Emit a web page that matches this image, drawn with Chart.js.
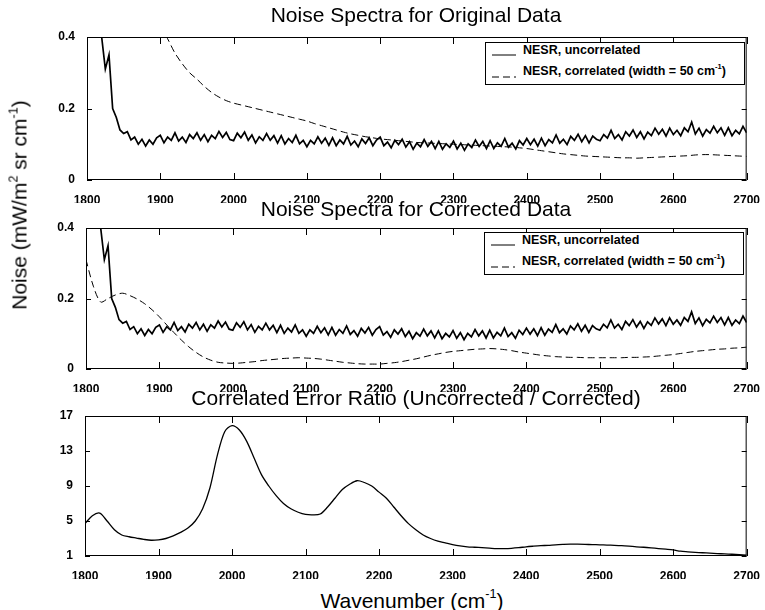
<!DOCTYPE html>
<html>
<head>
<meta charset="utf-8">
<title>Noise Spectra</title>
<script src="https://cdn.jsdelivr.net/npm/chart.js@4.4.1/dist/chart.umd.min.js"></script>
<style>
    body { margin: 0; background: #fff; }
    #page {
        position: relative; width: 765px; height: 610px; overflow: hidden;
        font-family: "Liberation Sans", Arial, sans-serif; color: #000;
    }
    #page canvas { position: absolute; left: 0; }
    .title {
        position: absolute; font-size: 21px; line-height: 1; white-space: nowrap;
        transform: translate(-50%, -50%);
    }
    .title sup, .legend sup { font-size: 0.6em; vertical-align: 0.75em; line-height: 0; }
    #y-title { transform: translate(-50%, -50%) rotate(-90deg); }
    .legend {
        position: absolute; border: 1px solid #000; background: #fff;
        font-weight: bold; font-size: 12.5px; line-height: 1;
    }
    .legend span { position: absolute; left: 37px; white-space: nowrap; }
    .legend svg { position: absolute; left: 6px; }
</style>
</head>
<body>
<div id="page">
    <canvas id="panel-1" width="765" height="178" style="top:25px"></canvas>
    <canvas id="panel-2" width="765" height="176" style="top:216px"></canvas>
    <canvas id="panel-3" width="765" height="175" style="top:404px"></canvas>

    <div class="title" style="left:416px; top:14px">Noise Spectra for Original Data</div>
    <div class="title" style="left:416px; top:208px">Noise Spectra for Corrected Data</div>
    <div class="title" style="left:416px; top:397px">Correlated Error Ratio (Uncorrected / Corrected)</div>
    <div class="title" style="left:412px; top:600px">Wavenumber (cm<sup>-1</sup>)</div>
    <div class="title" id="y-title" style="left:19px; top:205px">Noise (mW/m<sup>2</sup> sr cm<sup>-1</sup>)</div>

    <div class="legend" style="left:485px; top:42px; width:258px; height:41px">
        <svg width="24" height="4" style="top:10px"><line x1="0" y1="2" x2="24" y2="2" stroke="#000" stroke-width="1"/></svg>
        <span style="top:1px">NESR, uncorrelated</span>
        <svg width="24" height="4" style="top:32px"><line x1="0" y1="2" x2="24" y2="2" stroke="#000" stroke-width="1" stroke-dasharray="7 4"/></svg>
        <span style="top:22px">NESR, correlated (width = 50 cm<sup>-1</sup>)</span>
    </div>
    <div class="legend" style="left:484px; top:232px; width:258px; height:41px">
        <svg width="24" height="4" style="top:10px"><line x1="0" y1="2" x2="24" y2="2" stroke="#000" stroke-width="1"/></svg>
        <span style="top:1px">NESR, uncorrelated</span>
        <svg width="24" height="4" style="top:32px"><line x1="0" y1="2" x2="24" y2="2" stroke="#000" stroke-width="1" stroke-dasharray="7 4"/></svg>
        <span style="top:22px">NESR, correlated (width = 50 cm<sup>-1</sup>)</span>
    </div>
</div>

<script>
// Wavenumber axis (cm-1)
const wnMin = 1800;
const wnMax = 2700;
const wnTicks = [1800, 1900, 2000, 2100, 2200, 2300, 2400, 2500, 2600, 2700];

// Uncorrelated NESR, sampled every 5 cm-1 from 1800 (same in both noise panels)
const nesrStep = 5;
const nesrUncorrelated = [
    null, null, null, null,
    0.40, 0.31, 0.35, 0.20, 0.175, 0.14, 0.13, 0.135, 0.112, 0.12, 0.10, 0.114, 0.095, 0.112, 0.10, 0.118,
    0.125, 0.104, 0.12, 0.111, 0.132, 0.109, 0.12, 0.105, 0.127, 0.116, 0.132, 0.111, 0.127, 0.107, 0.125, 0.116, 0.136, 0.119, 0.133, 0.113,
    0.11, 0.131, 0.118, 0.134, 0.111, 0.126, 0.104, 0.121, 0.111, 0.13, 0.111, 0.124, 0.103, 0.124, 0.101, 0.116, 0.105, 0.125, 0.101, 0.111,
    0.093, 0.111, 0.101, 0.121, 0.103, 0.117, 0.097, 0.118, 0.096, 0.112, 0.101, 0.122, 0.098, 0.109, 0.093, 0.115, 0.102, 0.118, 0.096, 0.112,
    0.12, 0.096, 0.106, 0.09, 0.111, 0.099, 0.114, 0.092, 0.107, 0.086, 0.103, 0.093, 0.113, 0.094, 0.108, 0.088, 0.108, 0.086, 0.101, 0.091,
    0.109, 0.087, 0.103, 0.083, 0.101, 0.091, 0.112, 0.094, 0.108, 0.088, 0.11, 0.088, 0.104, 0.094, 0.116, 0.092, 0.103, 0.087, 0.11, 0.098,
    0.116, 0.099, 0.114, 0.095, 0.117, 0.096, 0.113, 0.104, 0.126, 0.103, 0.114, 0.099, 0.122, 0.111, 0.128, 0.107, 0.124, 0.104, 0.123, 0.114,
    0.11, 0.127, 0.117, 0.139, 0.116, 0.127, 0.112, 0.135, 0.123, 0.14, 0.119, 0.135, 0.115, 0.134, 0.124, 0.145, 0.128, 0.142, 0.123, 0.145,
    0.127, 0.139, 0.124, 0.146, 0.135, 0.162, 0.129, 0.145, 0.123, 0.141, 0.131, 0.15, 0.132, 0.146, 0.125, 0.146, 0.124, 0.139, 0.129, 0.15,
    0.132
];

// Smooth curves, sampled every 10 cm-1 from 1800
const smoothStep = 10;
const nesrCorrelatedOriginal = [
    null, null, null, null, null, null, null, null, null, null,
    0.43, 0.395, 0.355, 0.325, 0.30, 0.282, 0.262, 0.245, 0.232, 0.222,
    0.215, 0.21, 0.205, 0.20, 0.195, 0.19, 0.185, 0.18, 0.175, 0.17,
    0.165, 0.158, 0.152, 0.146, 0.14, 0.134, 0.129, 0.125, 0.121, 0.118,
    0.115, 0.113, 0.111, 0.109, 0.107, 0.105, 0.104, 0.103, 0.102, 0.101,
    0.10, 0.099, 0.098, 0.097, 0.096, 0.095, 0.094, 0.093, 0.092, 0.09,
    0.088, 0.085, 0.082, 0.079, 0.076, 0.073, 0.071, 0.069, 0.067, 0.066,
    0.065, 0.064, 0.063, 0.062, 0.062, 0.061, 0.062, 0.063, 0.064, 0.065,
    0.066, 0.067, 0.068, 0.07, 0.071, 0.071, 0.07, 0.069, 0.068, 0.067,
    0.066
];

const nesrCorrelatedCorrected = [
    0.31, 0.235, 0.19, 0.20, 0.21, 0.215, 0.208, 0.198, 0.185, 0.168,
    0.148, 0.125, 0.103, 0.082, 0.063, 0.047, 0.034, 0.025, 0.019, 0.017,
    0.016, 0.017, 0.019, 0.021, 0.024, 0.026, 0.028, 0.03, 0.031, 0.032,
    0.031, 0.03, 0.028, 0.025, 0.022, 0.019, 0.017, 0.015, 0.014, 0.014,
    0.014, 0.016, 0.018, 0.021, 0.025, 0.029, 0.034, 0.039, 0.043, 0.047,
    0.05, 0.052, 0.054, 0.056, 0.057, 0.058, 0.057, 0.055, 0.052, 0.048,
    0.045, 0.042, 0.039, 0.037, 0.035, 0.034, 0.033, 0.033, 0.032, 0.032,
    0.032, 0.032, 0.032, 0.032, 0.033, 0.033, 0.034, 0.035, 0.037, 0.039,
    0.041, 0.044, 0.047, 0.05, 0.052, 0.054, 0.056, 0.057, 0.059, 0.06,
    0.062
];

const errorRatio = [
    4.7, 5.6, 5.9, 5.0, 4.0, 3.4, 3.2, 3.05, 2.9, 2.8,
    2.85, 3.0, 3.3, 3.7, 4.2, 5.0, 6.4, 8.8, 12.5, 15.2,
    15.9, 15.4, 14.1, 12.2, 10.3, 9.0, 7.9, 7.0, 6.4, 6.0,
    5.75, 5.7, 5.8, 6.6, 7.6, 8.6, 9.2, 9.6, 9.4, 9.0,
    8.3, 7.6, 6.6, 5.6, 4.7, 4.0, 3.4, 3.0, 2.7, 2.5,
    2.3, 2.15, 2.05, 2.0, 1.95, 1.9, 1.85, 1.85, 1.88, 1.95,
    2.05, 2.12, 2.18, 2.22, 2.28, 2.32, 2.35, 2.35, 2.33, 2.3,
    2.28, 2.25, 2.22, 2.18, 2.12, 2.05, 2.0, 1.93, 1.85, 1.78,
    1.7, 1.55, 1.48, 1.42, 1.37, 1.33, 1.28, 1.24, 1.2, 1.15,
    1.1
];

// Y axis ticks for each panel
const noiseTicks = [0, 0.2, 0.4];
const ratioTicks = [1, 5, 9, 13, 17];

// Turn a sampled array into {x, y} points on the wavenumber axis
function toPoints(values, step) {
    return values.map((v, i) => ({ x: wnMin + i * step, y: v }));
}

// Draws the box around the plot with inward ticks on all four sides
const frameTicks = {
    id: 'frameTicks',
    afterDraw(chart) {
        const { ctx, chartArea: a, scales: { x, y } } = chart;
        ctx.save();
        ctx.strokeStyle = '#000';
        ctx.lineWidth = 1;
        ctx.strokeRect(a.left + 0.5, a.top + 0.5, a.right - a.left - 1, a.bottom - a.top - 1);
        ctx.beginPath();
        x.ticks.forEach(t => {
            const px = Math.round(x.getPixelForValue(t.value)) + 0.5;
            ctx.moveTo(px, a.top); ctx.lineTo(px, a.top + 7);
            ctx.moveTo(px, a.bottom); ctx.lineTo(px, a.bottom - 7);
        });
        y.ticks.forEach(t => {
            const py = Math.round(y.getPixelForValue(t.value)) + 0.5;
            ctx.moveTo(a.left, py); ctx.lineTo(a.left + 5, py);
            ctx.moveTo(a.right, py); ctx.lineTo(a.right - 5, py);
        });
        ctx.stroke();
        ctx.restore();
    }
};

const tickFont = { family: '"Liberation Sans", Arial, sans-serif', size: 12, weight: 'bold' };

// Shared options for one panel; left/right are the plot edges in page pixels
function panelOptions(yMin, yMax, yTicks, left, right) {
    return {
        responsive: false,
        animation: false,
        layout: { padding: { top: 12, right: 765 - right, bottom: 0, left: 0 } },
        plugins: { legend: { display: false }, tooltip: { enabled: false } },
        scales: {
            x: {
                type: 'linear',
                min: wnMin,
                max: wnMax,
                afterBuildTicks: s => { s.ticks = wnTicks.map(v => ({ value: v })); },
                afterFit: s => { s.height = 23; },
                grid: { display: false },
                border: { display: false },
                ticks: { color: '#000', font: tickFont, padding: 5, maxRotation: 0, autoSkip: false,
                         callback: v => String(v) }
            },
            y: {
                min: yMin,
                max: yMax,
                afterBuildTicks: s => { s.ticks = yTicks.map(v => ({ value: v })); },
                afterFit: s => { s.width = left; },
                grid: { display: false },
                border: { display: false },
                ticks: { color: '#000', font: tickFont, padding: 4, callback: v => String(v) }
            }
        }
    };
}

const solid = { borderColor: '#000', borderWidth: 1.7, pointRadius: 0, tension: 0, spanGaps: false };
const dashed = { borderColor: '#000', borderWidth: 1, borderDash: [7, 4], pointRadius: 0, tension: 0.3, spanGaps: false };

// Panel 1: noise spectra for the original data
new Chart(document.getElementById('panel-1'), {
    type: 'line',
    data: {
        datasets: [
            Object.assign({ label: 'NESR, uncorrelated', data: toPoints(nesrUncorrelated, nesrStep) }, solid),
            Object.assign({ label: 'NESR, correlated (width = 50 cm-1)', data: toPoints(nesrCorrelatedOriginal, smoothStep) }, dashed)
        ]
    },
    options: panelOptions(0, 0.4, noiseTicks, 87, 752),
    plugins: [frameTicks]
});

// Panel 2: noise spectra for the corrected data
new Chart(document.getElementById('panel-2'), {
    type: 'line',
    data: {
        datasets: [
            Object.assign({ label: 'NESR, uncorrelated', data: toPoints(nesrUncorrelated, nesrStep) }, solid),
            Object.assign({ label: 'NESR, correlated (width = 50 cm-1)', data: toPoints(nesrCorrelatedCorrected, smoothStep) }, dashed)
        ]
    },
    options: panelOptions(0, 0.4, noiseTicks, 86, 751),
    plugins: [frameTicks]
});

// Panel 3: ratio of correlated error, uncorrected over corrected
new Chart(document.getElementById('panel-3'), {
    type: 'line',
    data: {
        datasets: [
            Object.assign({ label: 'Correlated Error Ratio', data: toPoints(errorRatio, smoothStep) }, solid, { borderWidth: 1.3, tension: 0.3 })
        ]
    },
    options: panelOptions(1, 17, ratioTicks, 85, 750),
    plugins: [frameTicks]
});
</script>
</body>
</html>
